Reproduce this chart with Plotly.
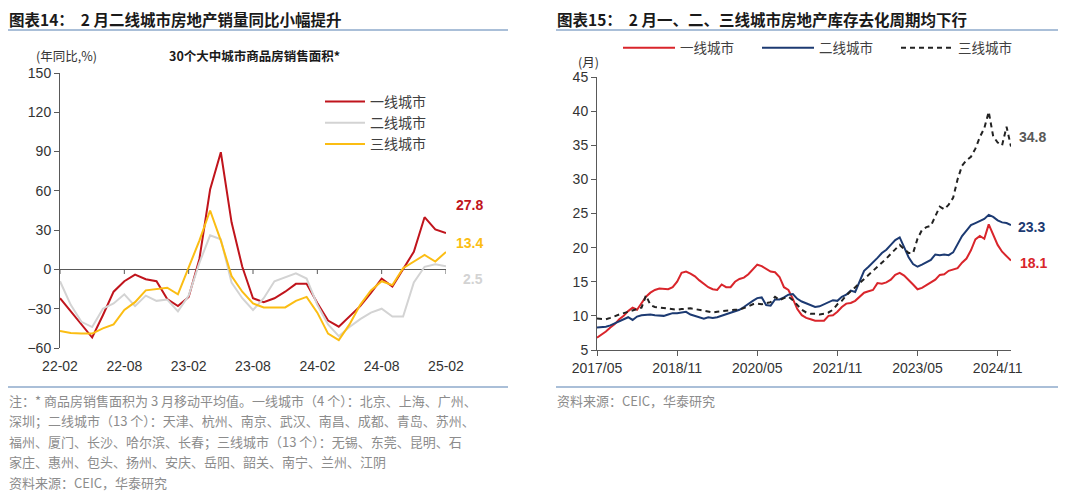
import plotly.graph_objects as go
import pandas as pd

# ---------------- Left chart data (YoY %, 3M MA) ----------------
left_months = [p.strftime("%y-%m") for p in pd.period_range("2022-02", "2025-02", freq="M")]
left_ticks = ["22-02", "22-08", "23-02", "23-08", "24-02", "24-08", "25-02"]
tier1_yoy = [-22, -32, -42, -52, -35, -17, -9, -4, -7.5, -9, -22.6, -28, -21, 8, 61, 89.5,
             36, 2, -22, -25, -22, -17, -11, -11, -25.6, -39, -43.7, -36, -28, -18, -7,
             -13, 0, 13.5, 39.9, 30.5, 27.8]
tier2_yoy = [-9, -27, -40, -44, -30, -26, -19, -28, -20, -24, -23, -32, -20, 5, 26, 23,
             -10, -22, -31, -22, -9, -6, -3, -7, -27, -42, -51, -44, -38, -33, -30,
             -36, -36, -10, 2, 4, 2.5]
tier3_yoy = [-47, -48.5, -49, -49, -45, -42, -31, -25, -16, -15, -14, -19, 1, 22, 45, 22,
             -5, -17, -26, -29, -29, -29, -24, -21, -33, -49, -54, -42, -27, -16, -9,
             -12, 1, 6, 11, 6, 13.4]

# ---------------- Right chart data (months of inventory) ----------------
right_months = [p.strftime("%Y/%m") for p in pd.period_range("2017-05", "2025-02", freq="M")]
right_ticks = ["2017/05", "2018/11", "2020/05", "2021/11", "2023/05", "2024/11"]
tier1_inv = [6.8, 7.2, 7.7, 8.3, 8.8, 9.5, 10.0, 10.7, 11.2, 10.9, 11.8, 12.8, 13.4, 13.8,
             14.0, 14.0, 13.9, 14.2, 15.0, 16.3, 16.5, 16.2, 15.8, 15.2, 14.7, 14.2, 13.9,
             13.8, 14.6, 14.2, 14.2, 15.0, 15.4, 15.6, 16.1, 16.8, 17.5, 17.3, 16.9, 16.5,
             16.4, 15.7, 14.2, 13.8, 12.5, 11.0, 10.1, 9.7, 9.5, 9.3, 9.3, 9.3, 10.0, 10.1,
             10.6, 11.3, 11.8, 11.9, 12.2, 12.8, 13.4, 13.6, 13.8, 14.8, 14.7, 14.9, 15.3,
             16.0, 16.3, 15.9, 15.3, 14.6, 13.9, 14.1, 14.5, 14.9, 15.3, 16.0, 16.1, 16.6,
             16.8, 17.0, 17.8, 18.4, 19.6, 21.2, 21.7, 21.3, 23.4, 21.9, 20.4, 19.4, 18.7,
             18.1]
tier2_inv = [8.3, 8.3, 8.4, 8.6, 8.9, 9.3, 9.6, 9.8, 9.4, 9.9, 10.1, 10.2, 10.2, 10.1,
             10.0, 10.0, 10.2, 10.4, 10.4, 10.5, 10.6, 10.2, 10.0, 9.8, 9.6, 9.8, 9.7, 9.8,
             10.0, 10.2, 10.4, 10.6, 10.9, 11.3, 11.8, 12.2, 12.6, 12.7, 11.6, 11.5, 12.4,
             12.4, 12.7, 13.1, 13.2, 12.5, 12.1, 11.8, 11.5, 11.3, 11.4, 11.7, 11.9, 12.3,
             12.2, 12.8, 13.1, 13.7, 13.5, 15.0, 16.6, 17.2, 17.8, 18.5, 19.2, 19.7, 20.4,
             21.1, 21.5, 20.0, 18.6, 17.6, 17.2, 17.5, 17.9, 18.2, 19.0, 18.9, 19.0, 18.9,
             19.3, 20.6, 21.7, 22.5, 23.3, 23.6, 23.9, 24.2, 24.8, 24.5, 24.0, 23.7, 23.6,
             23.3]
tier3_inv = [9.6, 9.5, 9.5, 9.7, 10.0, 10.2, 10.4, 10.6, 10.7, 10.9, 11.2, 13.0, 11.6, 11.3,
             11.2, 11.1, 11.0, 10.9, 10.9, 11.0, 11.1, 11.1, 11.0, 10.9, 10.7, 10.6, 10.5,
             10.6, 10.7, 10.8, 10.9, 10.9, 10.9, 11.1, 11.4, 11.7, 11.8, 11.7, 11.8, 12.0,
             12.8, 12.3, 12.6, 12.8, 12.3, 11.6, 10.9, 10.5, 10.3, 10.3, 10.2, 10.3, 10.5,
             10.9, 11.7, 12.2, 13.0, 13.6, 14.2, 14.8, 15.4, 15.9, 16.5, 17.1, 17.8, 18.4,
             19.1, 19.7, 20.4, 19.8, 19.2, 19.2, 21.3, 22.6, 23.0, 23.2, 24.5, 26.0, 25.6,
             26.3, 27.3, 30.0, 32.0, 32.8, 33.3, 34.5, 36.2, 37.5, 39.9, 36.3, 35.4, 35.0,
             37.7, 34.8]

names = ["一线城市", "二线城市", "三线城市"]

# page body has an 8px margin: figure sits at (8, 8) in the window
OFF = 8
W, H = 1080 - OFF, 495 - OFF
def px_x(v):
    return (v - OFF) / W
def px_y(v):
    return 1 - (v - OFF) / H

CN = "Noto Sans CJK SC"
NUM = "Liberation Sans, Arial, Noto Sans CJK SC"
AXC = "#595959"
LINEC = "#8eaacb"
NOTEC = "#8c8c8c"

fig = go.Figure()

left_colors = ["#c0141c", "#d3d3d3", "#fbbd13"]
for nm, ys, c in zip(names, [tier1_yoy, tier2_yoy, tier3_yoy], left_colors):
    fig.add_trace(go.Scatter(x=left_months, y=ys, name=nm, mode="lines",
                             line=dict(color=c, width=2), xaxis="x", yaxis="y",
                             legend="legend"))

right_colors = ["#d9252b", "#1c3a72", "#222222"]
right_dash = ["solid", "solid", "5px,4px"]
for nm, ys, c, d in zip(names, [tier1_inv, tier2_inv, tier3_inv], right_colors, right_dash):
    fig.add_trace(go.Scatter(x=right_months, y=ys, name=nm, mode="lines",
                             line=dict(color=c, width=2, dash=d), xaxis="x2", yaxis="y2",
                             legend="legend2"))

# tick marks on the left chart's zero line
for t in left_ticks:
    i = left_months.index(t)
    fig.add_shape(type="line", xref="x", yref="y", x0=i, x1=i, y0=0, y1=-3.5,
                  line=dict(color=AXC, width=1))

# decorative title/footer rules
for x0, x1 in [(8, 508), (556, 1058)]:
    for yy in (30, 387):
        fig.add_shape(type="line", xref="paper", yref="paper",
                      x0=px_x(x0), x1=px_x(x1), y0=px_y(yy), y1=px_y(yy),
                      line=dict(color=LINEC, width=1.5))

ann = []
def text(x, y, s, size=13, color="#333", bold=False, xanchor="left", family=CN):
    ann.append(dict(x=px_x(x), y=px_y(y), xref="paper", yref="paper", text=(f"<b>{s}</b>" if bold else s),
                    showarrow=False, xanchor=xanchor, yanchor="middle", borderpad=0,
                    font=dict(size=size, color=color, family=family)))

text(8, 19, "图表14：  2 月二线城市房地产销量同比小幅提升", 15.5, "#1a1a1a", True)
text(556, 19, "图表15：  2 月一、二、三线城市房地产库存去化周期均下行", 15.5, "#1a1a1a", True)
text(35, 55, "(年同比,%)", 12.5, "#333")
text(168, 55, "30个大中城市商品房销售面积*", 12.5, "#1a1a1a", True)
text(577, 61, "(月)", 12.5, "#333")

text(455, 205, "27.8", 14, "#c0141c", True, family=NUM)
text(455, 243, "13.4", 14, "#fbbd13", True, family=NUM)
text(462, 279, "2.5", 14, "#d3d3d3", True, family=NUM)
text(1018, 137, "34.8", 14, "#595959", True, family=NUM)
text(1017, 227, "23.3", 14, "#1c3a72", True, family=NUM)
text(1019, 263, "18.1", 14, "#d9252b", True, family=NUM)

notes = [
    "注：* 商品房销售面积为 3 月移动平均值。一线城市（4 个）：北京、上海、广州、",
    "深圳；二线城市（13 个）：天津、杭州、南京、武汉、南昌、成都、青岛、苏州、",
    "福州、厦门、长沙、哈尔滨、长春；三线城市（13 个）：无锡、东莞、昆明、石",
    "家庄、惠州、包头、扬州、安庆、岳阳、韶关、南宁、兰州、江阴",
    "资料来源：CEIC，华泰研究",
]
for k, s in enumerate(notes):
    text(8, 400 + k * 20.5, s, 13, NOTEC)
text(556, 400, "资料来源：CEIC，华泰研究", 13, NOTEC)

axis_common = dict(showgrid=False, linecolor=AXC, tickcolor=AXC, linewidth=1, automargin=False,
                   tickfont=dict(size=14, color="#333", family=NUM))

fig.update_layout(
    width=W, height=H, margin=dict(l=0, r=0, t=0, b=0, autoexpand=False),
    paper_bgcolor="white", plot_bgcolor="white",
    annotations=ann,
    xaxis=dict(domain=[px_x(60), px_x(446)], type="category", range=[0, 36],
               tickvals=left_ticks, ticks="", showline=False, zeroline=False,
               ticklabelstandoff=8, anchor="y", **axis_common),
    yaxis=dict(domain=[px_y(348), px_y(73)], range=[-60, 150], tickvals=list(range(-60, 151, 30)),
               showline=True, ticks="outside", ticklen=5, zeroline=True, zerolinecolor=AXC,
               zerolinewidth=1, anchor="x", **axis_common),
    xaxis2=dict(domain=[px_x(597), px_x(1011)], type="category", range=[0, 93],
                tickvals=right_ticks, ticks="outside", ticklen=5, showline=True, zeroline=False,
                anchor="y2", **axis_common),
    yaxis2=dict(domain=[px_y(350), px_y(77)], range=[5, 45], tickvals=list(range(5, 46, 5)),
                showline=True, ticks="outside", ticklen=5, zeroline=False, anchor="x2",
                **axis_common),
    legend=dict(x=px_x(320), y=px_y(86), xanchor="left", yanchor="top",
                bgcolor="rgba(0,0,0,0)", font=dict(size=14, color="#404040", family=CN),
                tracegroupgap=0, itemwidth=40),
    legend2=dict(orientation="h", x=px_x(618), y=px_y(48), xanchor="left", yanchor="middle",
                 bgcolor="rgba(0,0,0,0)", font=dict(size=13.5, color="#404040", family=CN),
                 entrywidth=72, entrywidthmode="pixels", itemwidth=52),
    showlegend=True,
)

fig.write_html("out.html")
